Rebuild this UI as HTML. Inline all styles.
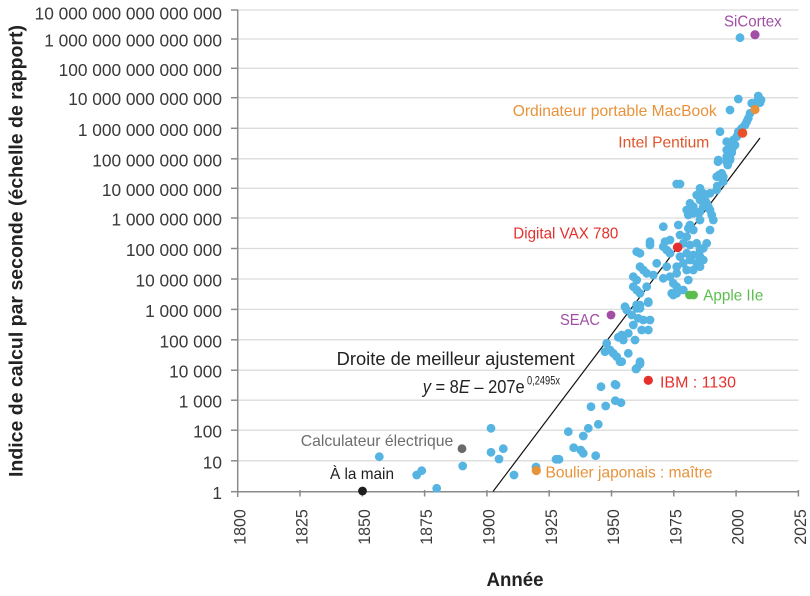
<!DOCTYPE html>
<html>
<head>
<meta charset="utf-8">
<style>
html,body{margin:0;padding:0;background:#fff;}
svg{display:block;}
text{font-family:"Liberation Sans", sans-serif;}
</style>
</head>
<body>
<svg width="810" height="596" viewBox="0 0 810 596" xmlns="http://www.w3.org/2000/svg">
<rect width="810" height="596" fill="#fff"/>
<!-- gridlines -->
<g stroke="#dcdcdc" stroke-width="1.3">
<line x1="238" x2="798.4" y1="460.8" y2="460.8"/>
<line x1="238" x2="798.4" y1="430.2" y2="430.2"/>
<line x1="238" x2="798.4" y1="400.2" y2="400.2"/>
<line x1="238" x2="798.4" y1="370.2" y2="370.2"/>
<line x1="238" x2="798.4" y1="339.8" y2="339.8"/>
<line x1="238" x2="798.4" y1="309.4" y2="309.4"/>
<line x1="238" x2="798.4" y1="279.0" y2="279.0"/>
<line x1="238" x2="798.4" y1="248.5" y2="248.5"/>
<line x1="238" x2="798.4" y1="218.0" y2="218.0"/>
<line x1="238" x2="798.4" y1="188.3" y2="188.3"/>
<line x1="238" x2="798.4" y1="158.8" y2="158.8"/>
<line x1="238" x2="798.4" y1="128.3" y2="128.3"/>
<line x1="238" x2="798.4" y1="97.7" y2="97.7"/>
<line x1="238" x2="798.4" y1="68.3" y2="68.3"/>
<line x1="238" x2="798.4" y1="39.0" y2="39.0"/>
<line x1="238" x2="798.4" y1="10.0" y2="10.0"/>
</g>
<!-- axes -->
<g stroke="#8a8a8a" stroke-width="1.5">
<line x1="237.7" x2="237.7" y1="9.5" y2="497"/>
<line x1="237.7" x2="798.4" y1="491.7" y2="491.7"/>
<line x1="231" x2="237.7" y1="491.7" y2="491.7"/>
<line x1="231" x2="237.7" y1="460.8" y2="460.8"/>
<line x1="231" x2="237.7" y1="430.2" y2="430.2"/>
<line x1="231" x2="237.7" y1="400.2" y2="400.2"/>
<line x1="231" x2="237.7" y1="370.2" y2="370.2"/>
<line x1="231" x2="237.7" y1="339.8" y2="339.8"/>
<line x1="231" x2="237.7" y1="309.4" y2="309.4"/>
<line x1="231" x2="237.7" y1="279.0" y2="279.0"/>
<line x1="231" x2="237.7" y1="248.5" y2="248.5"/>
<line x1="231" x2="237.7" y1="218.0" y2="218.0"/>
<line x1="231" x2="237.7" y1="188.3" y2="188.3"/>
<line x1="231" x2="237.7" y1="158.8" y2="158.8"/>
<line x1="231" x2="237.7" y1="128.3" y2="128.3"/>
<line x1="231" x2="237.7" y1="97.7" y2="97.7"/>
<line x1="231" x2="237.7" y1="68.3" y2="68.3"/>
<line x1="231" x2="237.7" y1="39.0" y2="39.0"/>
<line x1="231" x2="237.7" y1="10.0" y2="10.0"/>
<line x1="300.0" x2="300.0" y1="490" y2="496.5"/>
<line x1="362.3" x2="362.3" y1="490" y2="496.5"/>
<line x1="424.6" x2="424.6" y1="490" y2="496.5"/>
<line x1="486.9" x2="486.9" y1="490" y2="496.5"/>
<line x1="549.2" x2="549.2" y1="490" y2="496.5"/>
<line x1="611.5" x2="611.5" y1="490" y2="496.5"/>
<line x1="673.8" x2="673.8" y1="490" y2="496.5"/>
<line x1="736.1" x2="736.1" y1="490" y2="496.5"/>
<line x1="798.4" x2="798.4" y1="490" y2="496.5"/>
</g>
<!-- y labels -->
<g font-size="17.3" fill="#3a3a3a" text-anchor="end">
<text x="222" y="19.5">10 000 000 000 000 000</text>
<text x="222" y="46.5">1 000 000 000 000 000</text>
<text x="222" y="75.8">100 000 000 000 000</text>
<text x="222" y="105.2">10 000 000 000 000</text>
<text x="222" y="135.8">1 000 000 000 000</text>
<text x="222" y="166.3">100 000 000 000</text>
<text x="222" y="195.8">10 000 000 000</text>
<text x="222" y="225.5">1 000 000 000</text>
<text x="222" y="256.0">100 000 000</text>
<text x="222" y="286.5">10 000 000</text>
<text x="222" y="316.9">1 000 000</text>
<text x="222" y="347.3">100 000</text>
<text x="222" y="377.7">10 000</text>
<text x="222" y="407.7">1 000</text>
<text x="222" y="437.7">100</text>
<text x="222" y="468.3">10</text>
<text x="222" y="499.0">1</text>
</g>
<!-- x labels -->
<g font-size="17" fill="#3a3a3a" text-anchor="end">
<text transform="translate(245.3,509.3) rotate(-90)" textLength="35.5" lengthAdjust="spacingAndGlyphs">1800</text>
<text transform="translate(307.6,509.3) rotate(-90)" textLength="35.5" lengthAdjust="spacingAndGlyphs">1825</text>
<text transform="translate(369.9,509.3) rotate(-90)" textLength="35.5" lengthAdjust="spacingAndGlyphs">1850</text>
<text transform="translate(432.2,509.3) rotate(-90)" textLength="35.5" lengthAdjust="spacingAndGlyphs">1875</text>
<text transform="translate(494.5,509.3) rotate(-90)" textLength="35.5" lengthAdjust="spacingAndGlyphs">1900</text>
<text transform="translate(556.8,509.3) rotate(-90)" textLength="35.5" lengthAdjust="spacingAndGlyphs">1925</text>
<text transform="translate(619.1,509.3) rotate(-90)" textLength="35.5" lengthAdjust="spacingAndGlyphs">1950</text>
<text transform="translate(681.4,509.3) rotate(-90)" textLength="35.5" lengthAdjust="spacingAndGlyphs">1975</text>
<text transform="translate(743.7,509.3) rotate(-90)" textLength="35.5" lengthAdjust="spacingAndGlyphs">2000</text>
<text transform="translate(806.0,509.3) rotate(-90)" textLength="35.5" lengthAdjust="spacingAndGlyphs">2025</text>
</g>
<!-- axis titles -->
<text transform="translate(22.7,477) rotate(-90)" font-size="19" font-weight="bold" fill="#222" textLength="452" lengthAdjust="spacingAndGlyphs">Indice de calcul par seconde (échelle de rapport)</text>
<text x="515" y="586" font-size="19" font-weight="bold" fill="#222" text-anchor="middle" textLength="57" lengthAdjust="spacingAndGlyphs">Année</text>

<!-- best fit line -->
<line x1="493" y1="491.5" x2="760" y2="138" stroke="#111" stroke-width="1.2"/>

<!-- blue dots -->
<g fill="#56b4e3">
<circle cx="379.3" cy="456.7" r="4.4"/>
<circle cx="416.7" cy="475" r="4.4"/>
<circle cx="421.7" cy="470.7" r="4.4"/>
<circle cx="436.7" cy="488.3" r="4.4"/>
<circle cx="462.7" cy="466" r="4.4"/>
<circle cx="491" cy="428.3" r="4.4"/>
<circle cx="491" cy="452.3" r="4.4"/>
<circle cx="503.3" cy="448.7" r="4.4"/>
<circle cx="499" cy="459" r="4.4"/>
<circle cx="514" cy="475" r="4.4"/>
<circle cx="536" cy="467" r="4.4"/>
<circle cx="556" cy="459.3" r="4.4"/>
<circle cx="559" cy="459.3" r="4.4"/>
<circle cx="568.3" cy="431.7" r="4.4"/>
<circle cx="573.7" cy="447.7" r="4.4"/>
<circle cx="580.7" cy="450" r="4.4"/>
<circle cx="583.3" cy="453.3" r="4.4"/>
<circle cx="583.3" cy="436" r="4.4"/>
<circle cx="588.3" cy="428.3" r="4.4"/>
<circle cx="595.7" cy="455.7" r="4.4"/>
<circle cx="598.3" cy="424.3" r="4.4"/>
<circle cx="591" cy="406.7" r="4.4"/>
<circle cx="605.7" cy="406" r="4.4"/>
<circle cx="615.3" cy="400.7" r="4.4"/>
<circle cx="621" cy="402.7" r="4.4"/>
<circle cx="601" cy="386.7" r="4.4"/>
<circle cx="615" cy="384.3" r="4.4"/>
<circle cx="616" cy="385" r="4.4"/>
<circle cx="636" cy="369" r="4.4"/>
<circle cx="640" cy="364" r="4.4"/>
<circle cx="621.7" cy="361.7" r="4.4"/>

<circle cx="626.7" cy="310" r="4.4"/>
<circle cx="631.7" cy="315" r="4.4"/>
<circle cx="636.7" cy="308.3" r="4.4"/>
<circle cx="640" cy="305" r="4.4"/>
<circle cx="648.3" cy="302.7" r="4.4"/>
<circle cx="638.3" cy="318.3" r="4.4"/>
<circle cx="643.3" cy="320" r="4.4"/>
<circle cx="650" cy="320" r="4.4"/>
<circle cx="633.3" cy="325" r="4.4"/>
<circle cx="641.7" cy="330" r="4.4"/>
<circle cx="648.3" cy="330" r="4.4"/>
<circle cx="621.7" cy="335" r="4.4"/>
<circle cx="618.3" cy="337.3" r="4.4"/>
<circle cx="623.3" cy="340" r="4.4"/>
<circle cx="628.3" cy="333.3" r="4.4"/>
<circle cx="635" cy="340" r="4.4"/>
<circle cx="606.7" cy="343.3" r="4.4"/>
<circle cx="605" cy="351.7" r="4.4"/>
<circle cx="610" cy="350" r="4.4"/>
<circle cx="613.3" cy="353.3" r="4.4"/>
<circle cx="616.7" cy="356.7" r="4.4"/>
<circle cx="620" cy="361.7" r="4.4"/>
<circle cx="628.3" cy="353.3" r="4.4"/>
<circle cx="640" cy="361.7" r="4.4"/>
<circle cx="636.7" cy="368.3" r="4.4"/>

<circle cx="718" cy="161.7" r="4.4"/>
<circle cx="727.7" cy="165" r="4.4"/>
<circle cx="730" cy="160" r="4.4"/>
<circle cx="719" cy="175" r="4.4"/>
<circle cx="721.7" cy="178.3" r="4.4"/>
<circle cx="723.3" cy="181.7" r="4.4"/>
<circle cx="717.3" cy="186" r="4.4"/>
<circle cx="676.7" cy="184" r="4.4"/>
<circle cx="680" cy="184" r="4.4"/>
<circle cx="700" cy="188.3" r="4.4"/>
<circle cx="703.3" cy="193.3" r="4.4"/>
<circle cx="696.7" cy="195" r="4.4"/>
<circle cx="710" cy="193.3" r="4.4"/>
<circle cx="716.7" cy="190" r="4.4"/>
<circle cx="700" cy="200" r="4.4"/>
<circle cx="690" cy="203.3" r="4.4"/>
<circle cx="693.3" cy="206.7" r="4.4"/>
<circle cx="703.3" cy="206.7" r="4.4"/>
<circle cx="710" cy="210" r="4.4"/>
<circle cx="706.7" cy="203.3" r="4.4"/>
<circle cx="686.7" cy="210" r="4.4"/>
<circle cx="688.3" cy="215" r="4.4"/>
<circle cx="693.3" cy="213.3" r="4.4"/>
<circle cx="700" cy="211.7" r="4.4"/>
<circle cx="711.7" cy="215" r="4.4"/>
<circle cx="713.3" cy="220" r="4.4"/>
<circle cx="700" cy="220" r="4.4"/>
<circle cx="690" cy="225" r="4.4"/>
<circle cx="678.3" cy="225" r="4.4"/>
<circle cx="663.3" cy="226.7" r="4.4"/>
<circle cx="693.3" cy="230" r="4.4"/>
<circle cx="710" cy="230" r="4.4"/>
<circle cx="680" cy="235" r="4.4"/>
<circle cx="670" cy="240" r="4.4"/>
<circle cx="665" cy="241.7" r="4.4"/>
<circle cx="686.7" cy="236.7" r="4.4"/>
<circle cx="650" cy="241.7" r="4.4"/>
<circle cx="650" cy="245" r="4.4"/>
<circle cx="640" cy="253.3" r="4.4"/>
<circle cx="636.7" cy="251.7" r="4.4"/>
<circle cx="663.3" cy="246.7" r="4.4"/>
<circle cx="666.7" cy="250" r="4.4"/>
<circle cx="683.3" cy="243.3" r="4.4"/>
<circle cx="690" cy="245" r="4.4"/>
<circle cx="696.7" cy="243.3" r="4.4"/>
<circle cx="700" cy="250" r="4.4"/>
<circle cx="703.3" cy="248.3" r="4.4"/>
<circle cx="706.7" cy="243.3" r="4.4"/>
<circle cx="670" cy="253.3" r="4.4"/>
<circle cx="680" cy="256.7" r="4.4"/>
<circle cx="686.7" cy="253.3" r="4.4"/>
<circle cx="693.3" cy="255" r="4.4"/>
<circle cx="700" cy="256.7" r="4.4"/>
<circle cx="690" cy="260" r="4.4"/>
<circle cx="696.7" cy="263.3" r="4.4"/>
<circle cx="703.3" cy="260" r="4.4"/>
<circle cx="656.7" cy="263.3" r="4.4"/>
<circle cx="666.7" cy="266.7" r="4.4"/>
<circle cx="676.7" cy="266.7" r="4.4"/>
<circle cx="683.3" cy="263.3" r="4.4"/>
<circle cx="686.7" cy="270" r="4.4"/>
<circle cx="693.3" cy="270" r="4.4"/>
<circle cx="700" cy="266.7" r="4.4"/>
<circle cx="640" cy="266.7" r="4.4"/>
<circle cx="643.3" cy="270" r="4.4"/>
<circle cx="633.3" cy="276.7" r="4.4"/>
<circle cx="636.7" cy="280" r="4.4"/>
<circle cx="646.7" cy="273.3" r="4.4"/>
<circle cx="653.3" cy="275" r="4.4"/>
<circle cx="663.3" cy="278.3" r="4.4"/>
<circle cx="670" cy="276.7" r="4.4"/>
<circle cx="676.7" cy="273.3" r="4.4"/>
<circle cx="688.3" cy="280" r="4.4"/>
<circle cx="673.3" cy="283.3" r="4.4"/>
<circle cx="676.7" cy="286.7" r="4.4"/>
<circle cx="683.3" cy="290" r="4.4"/>
<circle cx="633.3" cy="286.7" r="4.4"/>
<circle cx="636.7" cy="290" r="4.4"/>
<circle cx="640" cy="293.3" r="4.4"/>
<circle cx="646.7" cy="286.7" r="4.4"/>
<circle cx="648.3" cy="301.7" r="4.4"/>
<circle cx="671.7" cy="293.3" r="4.4"/>
<circle cx="673.3" cy="295" r="4.4"/>
<circle cx="676.7" cy="293.3" r="4.4"/>
<circle cx="625" cy="306.7" r="4.4"/>
<circle cx="636.7" cy="305" r="4.4"/>
<circle cx="640" cy="308.3" r="4.4"/>
<circle cx="705" cy="200" r="4.4"/>
<circle cx="708.3" cy="206.7" r="4.4"/>
<circle cx="698.3" cy="213.3" r="4.4"/>
<circle cx="688.3" cy="228.3" r="4.4"/>

<circle cx="726.7" cy="150" r="4.4"/>
<circle cx="731.7" cy="152.7" r="4.4"/>
<circle cx="726.7" cy="156.7" r="4.4"/>
<circle cx="718.3" cy="160" r="4.4"/>
<circle cx="730" cy="158.3" r="4.4"/>
<circle cx="726.7" cy="161.7" r="4.4"/>
<circle cx="733.3" cy="146.7" r="4.4"/>
<circle cx="731.7" cy="150" r="4.4"/>
<circle cx="728.3" cy="153.3" r="4.4"/>
<circle cx="735" cy="145" r="4.4"/>
<circle cx="730" cy="143.3" r="4.4"/>
<circle cx="726.7" cy="141.7" r="4.4"/>
<circle cx="733.3" cy="140" r="4.4"/>
<circle cx="736.7" cy="136.7" r="4.4"/>
<circle cx="738.3" cy="131.7" r="4.4"/>
<circle cx="720" cy="131.7" r="4.4"/>
<circle cx="741.7" cy="128.3" r="4.4"/>
<circle cx="745" cy="125" r="4.4"/>
<circle cx="746.7" cy="121.7" r="4.4"/>
<circle cx="748.3" cy="118.3" r="4.4"/>
<circle cx="750" cy="113.3" r="4.4"/>
<circle cx="730" cy="110" r="4.4"/>
<circle cx="738.3" cy="99" r="4.4"/>
<circle cx="740" cy="37.7" r="4.4"/>
<circle cx="758.3" cy="96" r="4.4"/>
<circle cx="761" cy="100" r="4.4"/>
<circle cx="756.7" cy="101.7" r="4.4"/>
<circle cx="751.7" cy="103.3" r="4.4"/>
<circle cx="760" cy="102.7" r="4.4"/>
<circle cx="755" cy="105" r="4.4"/>
<circle cx="721.7" cy="173.3" r="4.4"/>
<circle cx="723.3" cy="176.7" r="4.4"/>
<circle cx="716.7" cy="176.7" r="4.4"/>
</g>

<!-- highlighted dots -->
<circle cx="755" cy="34.7" r="4.6" fill="#a24ea5"/>
<circle cx="755" cy="109.5" r="4.6" fill="#e8923a"/>
<circle cx="742.5" cy="133" r="4.8" fill="#e8502a"/>
<circle cx="677.7" cy="247.3" r="4.8" fill="#e52f2f"/>
<circle cx="689.5" cy="295" r="4.4" fill="#5cbd4f"/>
<circle cx="693.5" cy="295" r="4.4" fill="#5cbd4f"/>
<circle cx="611" cy="315" r="4.4" fill="#a24ea5"/>
<circle cx="648.3" cy="380.3" r="4.6" fill="#e5302c"/>
<circle cx="462" cy="448.7" r="4.4" fill="#6a6a6a"/>
<circle cx="362.5" cy="491" r="4.4" fill="#1e1e1e"/>
<circle cx="536.3" cy="470.5" r="4.6" fill="#e8923a"/>

<!-- annotations -->
<g font-size="16" lengthAdjust="spacingAndGlyphs">
<text x="724" y="26.7" fill="#a24ea5" textLength="57.7" lengthAdjust="spacingAndGlyphs">SiCortex</text>
<text x="512.7" y="116" fill="#e8923a" textLength="204" lengthAdjust="spacingAndGlyphs">Ordinateur portable MacBook</text>
<text x="618.3" y="147.3" fill="#e0552b" textLength="91" lengthAdjust="spacingAndGlyphs">Intel Pentium</text>
<text x="513.3" y="238.3" fill="#e5302c" textLength="105" lengthAdjust="spacingAndGlyphs">Digital VAX 780</text>
<text x="703.3" y="300.5" fill="#5cbd4f" textLength="60" lengthAdjust="spacingAndGlyphs">Apple IIe</text>
<text x="560" y="325" fill="#a24ea5" textLength="40" lengthAdjust="spacingAndGlyphs">SEAC</text>
<text x="660" y="387.3" fill="#e5302c" textLength="76" lengthAdjust="spacingAndGlyphs">IBM : 1130</text>
<text x="300.7" y="446" fill="#6d6d6d" textLength="152.6" lengthAdjust="spacingAndGlyphs">Calculateur électrique</text>
<text x="330" y="479" fill="#1e1e1e" textLength="64" lengthAdjust="spacingAndGlyphs">À la main</text>
<text x="545.5" y="477.3" fill="#e8923a" textLength="167" lengthAdjust="spacingAndGlyphs">Boulier japonais : maître</text>
</g>
<text x="336.7" y="365" font-size="18" fill="#222" textLength="238" lengthAdjust="spacingAndGlyphs">Droite de meilleur ajustement</text>
<text x="422.7" y="393" font-size="18" fill="#222" textLength="102" lengthAdjust="spacingAndGlyphs"><tspan font-style="italic">y</tspan> = 8<tspan font-style="italic">E</tspan> – 207e</text>
<text x="527" y="384.5" font-size="11.5" fill="#222" textLength="33" lengthAdjust="spacingAndGlyphs">0,2495x</text>
</svg>
</body>
</html>
